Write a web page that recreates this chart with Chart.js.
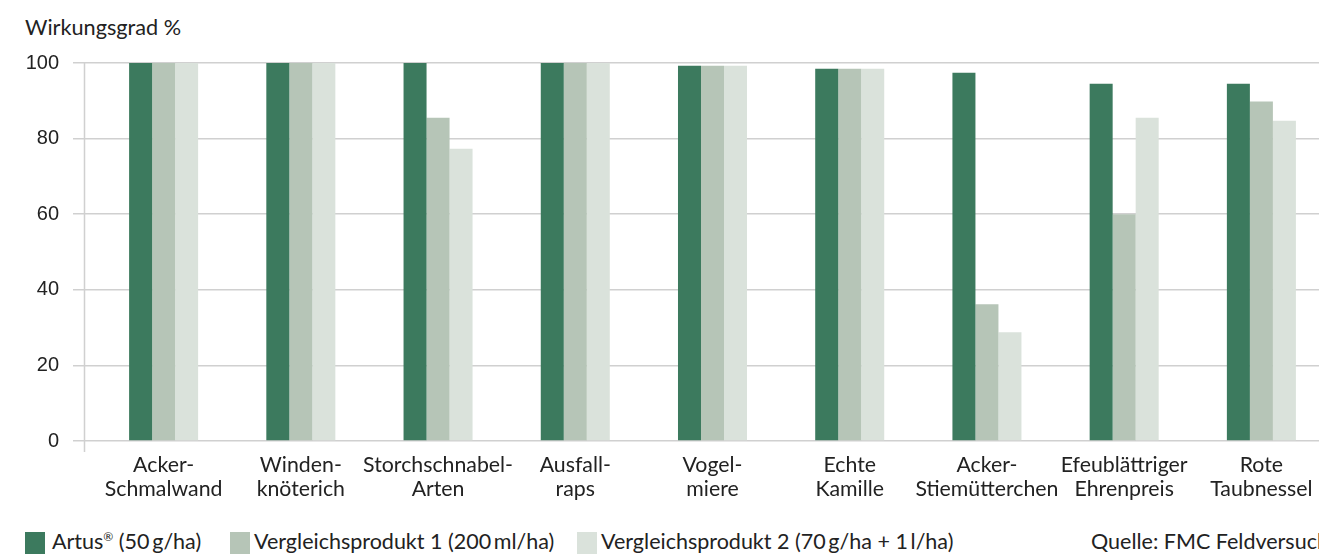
<!DOCTYPE html>
<html lang="de">
<head>
<meta charset="utf-8">
<title>Wirkungsgrad</title>
<script src="https://cdn.jsdelivr.net/npm/chart.js@4/dist/chart.umd.min.js"></script>
<style>
  html, body { margin: 0; padding: 0; background: #ffffff; overflow: hidden; }
  body { width: 1319px; height: 554px; position: relative; font-family: Lato, "Open Sans", sans-serif; color: #222; }
  #wrap { position: absolute; left: 0; top: 0; width: 1345px; height: 505px; }
  .ytitle { position: absolute; left: 25px; top: 14px; font-size: 21.7px; line-height: 1.2; white-space: nowrap; }
  .legend { position: absolute; top: 532px; left: 0; height: 30px; width: 1400px; font-size: 21.5px; line-height: 1.2; }
  .sw { position: absolute; top: 0; width: 20px; height: 24px; }
  .lt { position: absolute; top: -3px; white-space: nowrap; }
  sup { font-size: 12px; vertical-align: 8px; line-height: 0; }
</style>
</head>
<body>
<div class="ytitle">Wirkungsgrad %</div>
<div id="wrap"><canvas id="c" width="1345" height="505"></canvas></div>
<div class="legend">
  <span class="sw" style="left:25px;background:#3c7a5e"></span>
  <span class="lt" style="left:52px">Artus<sup>®</sup> (50&#8201;g/ha)</span>
  <span class="sw" style="left:230px;background:#b6c5b7"></span>
  <span class="lt" style="left:254px">Vergleichsprodukt 1 (200&#8201;ml/ha)</span>
  <span class="sw" style="left:577px;background:#dae2db"></span>
  <span class="lt" style="left:601px">Vergleichsprodukt 2 (70&#8201;g/ha + 1&#8201;l/ha)</span>
  <span class="lt" style="left:1091px">Quelle: FMC Feldversuch</span>
</div>
<script>
// Unkrautarten (zweizeilige Beschriftung)
const categories = [
  ["Acker-", "Schmalwand"],
  ["Winden-", "knöterich"],
  ["Storchschnabel-", "Arten"],
  ["Ausfall-", "raps"],
  ["Vogel-", "miere"],
  ["Echte", "Kamille"],
  ["Acker-", "Stiemütterchen"],
  ["Efeublättriger", "Ehrenpreis"],
  ["Rote", "Taubnessel"]
];

// Wirkungsgrad in %
const artus = [100, 100, 100, 100, 99.3, 98.5, 97.4, 94.5, 94.5];
const vergleich1 = [100, 100, 85.5, 100, 99.3, 98.5, 36.2, 60, 89.8];
const vergleich2 = [100, 100, 77.3, 100, 99.3, 98.5, 28.8, 85.5, 84.7];

const yTicks = [0, 20, 40, 60, 80, 100];

const seriesNames = ["Artus® (50 g/ha)", "Vergleichsprodukt 1 (200 ml/ha)", "Vergleichsprodukt 2 (70 g/ha + 1 l/ha)"];
const seriesColors = ["#3c7a5e", "#b6c5b7", "#dae2db"];

// senkrechte Achsenlinie links vom ersten Balkenpaar
const axisLinePlugin = {
  id: "axisLine",
  beforeDatasetsDraw(chart) {
    const y = chart.scales.y;
    const ctx = chart.ctx;
    const x = chart.chartArea.left - 10.5;
    ctx.save();
    ctx.strokeStyle = "#d0d0d0";
    ctx.lineWidth = 1.5;
    ctx.beginPath();
    ctx.moveTo(x, y.getPixelForValue(100));
    ctx.lineTo(x, y.getPixelForValue(0) + 11);
    ctx.stroke();
    ctx.restore();
  }
};

const datasets = [artus, vergleich1, vergleich2].map((d, i) => ({
  label: seriesNames[i],
  data: d,
  backgroundColor: seriesColors[i],
  borderWidth: 0,
  barPercentage: 1,
  categoryPercentage: 0.503
}));

new Chart(document.getElementById("c"), {
  type: "bar",
  data: { labels: categories, datasets },
  plugins: [axisLinePlugin],
  options: {
    responsive: false,
    animation: false,
    layout: { padding: { top: 63, left: 0, right: 15, bottom: 0 } },
    plugins: { legend: { display: false }, tooltip: { enabled: false }, title: { display: false } },
    scales: {
      x: {
        grid: { display: false, drawTicks: false },
        border: { display: false },
        ticks: {
          color: "#222",
          padding: 12,
          maxRotation: 0,
          autoSkip: false,
          font: { family: "Lato", size: 21.3, lineHeight: 1.12 }
        },
        afterFit(scale) { scale.height = 64; }
      },
      y: {
        min: 0,
        max: 100,
        afterBuildTicks(scale) { scale.ticks = yTicks.map(v => ({ value: v })); },
        grid: { color: "#d0d0d0", lineWidth: 1.5, tickLength: 22 },
        border: { display: false },
        ticks: {
          color: "#222",
          padding: 14,
          font: { family: "Liberation Sans", size: 20 }
        },
        afterFit(scale) { scale.width = 95; }
      }
    }
  }
});
</script>
</body>
</html>
